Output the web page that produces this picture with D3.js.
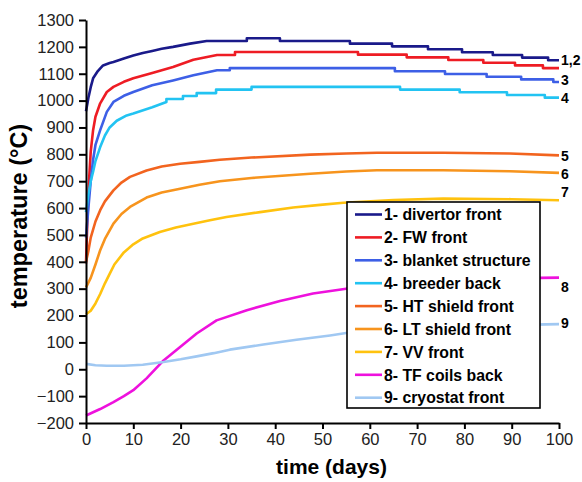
<!DOCTYPE html>
<html>
<head>
<meta charset="utf-8">
<script src="https://cdn.jsdelivr.net/npm/d3@7/dist/d3.min.js"></script>
<style>
  html, body { margin: 0; padding: 0; background: #fff; }
  svg { display: block; font-family: "Liberation Sans", Arial, Helvetica, sans-serif; }
</style>
</head>
<body>
<svg id="chart" width="582" height="482"></svg>
<script>
// Temperature histories of tokamak components, [day, °C]
const divertorFront = [[0,960],[0.5,1010],[1,1050],[1.5,1083],[2.5,1110],[3.6,1131],[5,1140],[5.8,1144],[8,1157],[10,1168],[12,1177],[14,1185],[16,1193],[18.4,1200],[22,1212],[25.5,1222],[34,1222],[34,1232],[41,1232],[41,1222],[55.8,1222],[55.8,1212],[64.7,1212],[64.7,1202],[72.3,1202],[72.3,1191],[79.5,1191],[79.5,1180],[86,1180],[86,1170],[92.2,1170],[92.2,1160],[97.7,1160],[97.7,1150],[100,1150]];
const fwFront = [[0,394],[0.3,560],[0.7,720],[1,810],[1.5,890],[2,940],[3,990],[4.4,1032],[5.8,1051],[8,1070],[10,1083],[14,1103],[18.4,1125],[22.7,1152],[27.7,1170],[31.5,1170],[31.5,1181],[57.5,1181],[57.5,1171],[67.8,1171],[67.8,1161],[76.6,1161],[76.6,1151],[84,1151],[84,1141],[90.7,1141],[90.7,1131],[96.6,1131],[96.6,1121],[100,1121]];
const blanketStructure = [[0,490],[0.5,600],[1,700],[1.5,780],[2,835],[3,890],[4.4,958],[5.8,995],[8,1018],[10,1032],[14,1057],[18.4,1075],[22.7,1094],[27.7,1113],[30.4,1113],[30.4,1121],[65.3,1121],[65.3,1109],[75.9,1109],[75.9,1099],[84.7,1099],[84.7,1089],[92,1089],[92,1079],[98.8,1079],[98.8,1069],[100,1069]];
const breederBack = [[0,585],[0.5,650],[1,700],[1.5,735],[2,775],[3,827],[4,870],[5,900],[6.5,925],[8.6,945],[10,952],[14,975],[17,995],[17,1006],[20.5,1006],[20.5,1017],[23.4,1017],[23.4,1028],[27.5,1028],[27.5,1041],[35,1041],[35,1051],[66.4,1051],[66.4,1041],[79,1041],[79,1031],[89,1031],[89,1021],[97,1021],[97,1011],[100,1011]];
const htShieldFront = [[0,400],[0.5,440],[1,490],[2,550],[3,592],[4,625],[5.8,666],[7.5,695],[9.3,716],[12.8,740],[16,755],[19.9,765],[24,772],[28.3,780],[35,788],[47.4,799],[55,803],[61.5,806],[75.5,806],[89.6,803],[100,796]];
const ltShieldFront = [[0,305],[1,340],[2,390],[3,443],[4,485],[5.8,542],[7.5,578],[9.3,604],[12.8,639],[16,658],[19.9,672],[24,687],[28.3,700],[35,712],[47.4,728],[55,736],[61.5,741],[75.5,741],[89.6,737],[100,731]];
const vvFront = [[0,205],[1,218],[2,245],[3,280],[4,320],[5,355],[6,390],[8,435],[10,465],[12,487],[15.6,511],[19,528],[22.7,542],[26.2,555],[29.7,567],[36.8,585],[43.8,602],[49.5,612],[54.4,620],[65,630],[75.5,635],[90,633],[100,629]];
const tfCoilsBack = [[0,-172],[3,-148],[5.8,-122],[8,-100],[10,-78],[12.8,-34],[16.4,33],[19.9,83],[23.4,133],[27.6,182],[34,220],[41,254],[48,282],[55,300],[65,318],[75,330],[86,337],[96,340],[100,341]];
const cryostatFront = [[0,20],[2,15],[4.4,13],[8,13],[12,17],[16.4,27],[20,37],[23.4,48],[27,60],[30.4,73],[37.5,92],[44.5,110],[51.6,126],[55,135],[65,148],[75,157],[88,164],[100,168]];

const seriesData = [divertorFront, fwFront, blanketStructure, breederBack, htShieldFront, ltShieldFront, vvFront, tfCoilsBack, cryostatFront];
const seriesNames = ["1- divertor front", "2- FW front", "3- blanket structure", "4- breeder back", "5- HT shield front", "6- LT shield front", "7- VV front", "8- TF coils back", "9- cryostat front"];
const seriesColors = ["#1a1a8a", "#ee1c24", "#3d5fe6", "#22c3f2", "#f2641f", "#f7941d", "#ffc20e", "#ee11dd", "#a0c8f2"];

// End-of-curve tags and the temperature each sits beside
const endTags = ["1,2", "3", "4", "5", "6", "7", "8", "9"];
const endTagTemps = [1150, 1078, 1008, 795, 728, 660, 305, 172];

const xTicks = [0, 10, 20, 30, 40, 50, 60, 70, 80, 90, 100];
const yTicks = [-200, -100, 0, 100, 200, 300, 400, 500, 600, 700, 800, 900, 1000, 1100, 1200, 1300];

const svg = d3.select("#chart");
const margin = { left: 86, top: 20, right: 23, bottom: 59 };
const W = 582 - margin.left - margin.right;
const H = 482 - margin.top - margin.bottom;

const x = d3.scaleLinear().domain([0, 100]).range([0, W]);
const y = d3.scaleLinear().domain([-200, 1300]).range([H, 0]);

const g = svg.append("g").attr("transform", `translate(${margin.left},${margin.top})`);

// curves
const line = d3.line().x(d => x(d[0])).y(d => y(d[1]));
g.selectAll("path.series")
  .data(seriesData)
  .join("path")
  .attr("class", "series")
  .attr("d", line)
  .attr("fill", "none")
  .attr("stroke", (d, i) => seriesColors[i])
  .attr("stroke-width", 2.6)
  .attr("stroke-linejoin", "round");

// axes
const fmt = d3.format("d");
const xAxis = d3.axisBottom(x).tickValues(xTicks).tickFormat(fmt).tickSize(6).tickSizeOuter(0).tickPadding(4);
const yAxis = d3.axisLeft(y).tickValues(yTicks).tickFormat(fmt).tickSize(7).tickSizeOuter(0).tickPadding(5);

const gx = g.append("g").attr("transform", `translate(0,${H})`).call(xAxis);
const gy = g.append("g").call(yAxis);
[gx, gy].forEach(a => {
  a.selectAll(".domain").attr("stroke", "#000").attr("stroke-width", 2);
  a.selectAll(".tick line").attr("stroke", "#000").attr("stroke-width", 2);
  a.selectAll(".tick text").attr("fill", "#222").style("font-size", "16.5px")
    .style("font-family", "'Liberation Sans', Arial, Helvetica, sans-serif");
});

// axis titles
svg.append("text")
  .attr("x", margin.left + W / 2 + 9).attr("y", 474)
  .attr("text-anchor", "middle")
  .style("font-weight", "bold").style("font-size", "21px")
  .text("time (days)");

svg.append("text")
  .attr("transform", `translate(27,${margin.top + 196}) rotate(-90)`)
  .attr("text-anchor", "middle")
  .style("font-weight", "bold").style("font-size", "23.5px")
  .text("temperature (°C)");

// end-of-curve tags
g.selectAll("text.tag")
  .data(endTags)
  .join("text")
  .attr("class", "tag")
  .attr("x", W + 2)
  .attr("y", (d, i) => y(endTagTemps[i]))
  .attr("dy", "0.35em")
  .style("font-weight", "bold").style("font-size", "14px")
  .text(d => d);

// legend
const lg = svg.append("g").attr("transform", "translate(347,202)");
lg.append("rect")
  .attr("width", 193).attr("height", 206)
  .attr("fill", "#fff").attr("stroke", "#000").attr("stroke-width", 1.6);
const rows = lg.selectAll("g.row")
  .data(seriesNames)
  .join("g")
  .attr("class", "row")
  .attr("transform", (d, i) => `translate(0,${12.5 + i * 22.9})`);
rows.append("line")
  .attr("x1", 8).attr("x2", 35)
  .attr("stroke", (d, i) => seriesColors[i]).attr("stroke-width", 2.6);
rows.append("text")
  .attr("x", 37).attr("dy", "0.36em")
  .style("font-weight", "bold").style("font-size", "15.8px")
  .text(d => d);
</script>
</body>
</html>
